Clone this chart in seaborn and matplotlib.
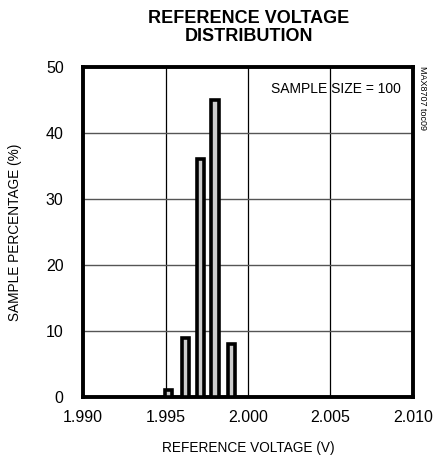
import matplotlib
matplotlib.use("Agg")
import matplotlib.pyplot as plt
import seaborn as sns
import pandas as pd

voltage = [1.9952, 1.9962, 1.9971, 1.9980, 1.9990]
percent = [1, 9, 36, 45, 8]
x_ticks = [1.990, 1.995, 2.000, 2.005, 2.010]
x_tick_labels = ["1.990", "1.995", "2.000", "2.005", "2.010"]
y_ticks = [0, 10, 20, 30, 40, 50]

sns.set_theme(style="white", rc={"text.color": "black", "axes.labelcolor": "black",
                                 "xtick.color": "black", "ytick.color": "black"})
plt.rcParams['font.family'] = ['Liberation Sans Narrow', 'Liberation Sans', 'DejaVu Sans']

fig = plt.figure(figsize=(4.35, 4.59), dpi=100)
ax = fig.add_axes([0.191, 0.135, 0.758, 0.719])

df = pd.DataFrame({"v": voltage, "p": percent})
sns.barplot(data=df, x="v", y="p", native_scale=True, width=0.48,
            color="#cccccc", edgecolor="black", linewidth=2.6,
            saturation=1, ax=ax, zorder=3)

ax.set_xlim(1.990, 2.010)
ax.set_ylim(0, 50)
ax.set_xticks(x_ticks)
ax.set_xticklabels(x_tick_labels)
ax.set_yticks(y_ticks)
ax.tick_params(axis="x", length=0, labelsize=11.5, colors="black", pad=9)
ax.tick_params(axis="y", length=0, labelsize=11.5, colors="black", pad=14)

for v in [1.995, 2.000, 2.005]:
    ax.axvline(v, color="black", lw=0.9, zorder=1)
for y in [10, 20, 30, 40]:
    ax.axhline(y, color="#555555", lw=1.0, zorder=1)

for s in ax.spines.values():
    s.set_color("black")
    s.set_linewidth(2.8)
    s.set_visible(True)

ax.set_xlabel("REFERENCE VOLTAGE (V)", fontsize=9.8, labelpad=12, color="black")
ax.set_ylabel("SAMPLE PERCENTAGE (%)", fontsize=9.8, labelpad=17, color="black")

fig.text(0.572, 0.978, "REFERENCE VOLTAGE\nDISTRIBUTION", ha="center", va="top",
         fontsize=13, fontweight="bold", linespacing=1.1, color="black")

ax.text(0.965, 0.955, "SAMPLE SIZE = 100", transform=ax.transAxes,
        ha="right", va="top", fontsize=10, color="black")
fig.text(0.972, 0.857, "MAX8707 toc09", rotation=270, ha="center", va="top",
         fontsize=6.5, color="black")

fig.savefig("out.png", dpi=100)
